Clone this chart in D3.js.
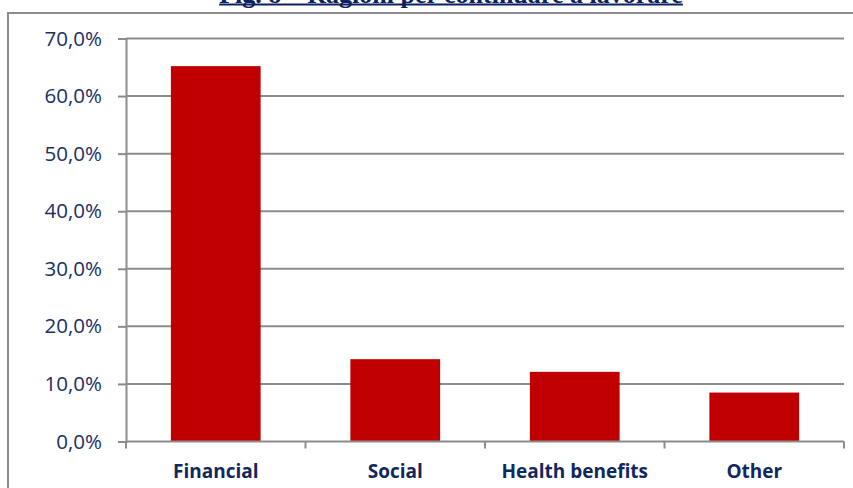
<!DOCTYPE html>
<html>
<head>
<meta charset="utf-8">
<script src="https://cdnjs.cloudflare.com/ajax/libs/d3/7.8.5/d3.min.js"></script>
<style>
  body { margin: 0; background: #fff; }
  svg { display: block; }
</style>
</head>
<body>
<div id="chart"></div>
<script>
var categories = ["Financial", "Social", "Health benefits", "Other"];
var values = [65.2, 14.3, 12.1, 8.5];
var tickValues = [0, 10, 20, 30, 40, 50, 60, 70];
var titleText = "Fig. 8 \u2013 Ragioni per continuare a lavorare";

var W = 853, H = 488;
var margin = {top: 38.5, right: 9, bottom: 46.5, left: 126};
var width = W - margin.left - margin.right;
var height = H - margin.top - margin.bottom;

var svg = d3.select("#chart").append("svg")
  .attr("width", W)
  .attr("height", H);

// outer frame (runs off the picture on right and bottom)
svg.append("rect")
  .attr("x", 8).attr("y", 13)
  .attr("width", 900).attr("height", 600)
  .attr("fill", "none")
  .attr("stroke", "#8c8c8c")
  .attr("stroke-width", 2);

// title, mostly cut off at top as in the source
var title = svg.append("text")
  .attr("x", 451).attr("y", 3)
  .attr("text-anchor", "middle")
  .style("font", "bold 26px 'Liberation Serif', serif")
  .style("fill", "#0d2060")
  .text(titleText);
var tw = title.node().getComputedTextLength();
svg.append("rect")
  .attr("x", 451 - tw / 2).attr("y", 3.5)
  .attr("width", tw).attr("height", 2)
  .attr("fill", "#0d2060");

var g = svg.append("g")
  .attr("transform", "translate(" + margin.left + "," + margin.top + ")");

var x = d3.scaleBand()
  .domain(categories)
  .range([0, width])
  .paddingInner(0.5)
  .paddingOuter(0.25);

var y = d3.scaleLinear()
  .domain([0, 70])
  .range([height, 0]);

// grid lines
g.selectAll(".grid")
  .data(tickValues.filter(function(d) { return d > 0; }))
  .enter().append("line")
  .attr("x1", 0).attr("x2", width)
  .attr("y1", function(d) { return y(d); })
  .attr("y2", function(d) { return y(d); })
  .attr("stroke", "#8c8c8c")
  .attr("stroke-width", 2);

// bars
g.selectAll(".bar")
  .data(values)
  .enter().append("rect")
  .attr("x", function(d, i) { return x(categories[i]); })
  .attr("y", function(d) { return y(d); })
  .attr("width", x.bandwidth())
  .attr("height", function(d) { return height - y(d); })
  .attr("fill", "#c00000");

// y axis
var yAxis = g.append("g")
  .call(d3.axisLeft(y).tickValues(tickValues).tickSize(8).tickPadding(16)
    .tickFormat(function(d) { return d.toFixed(1).replace(".", ",") + "%"; }));
yAxis.select(".domain").attr("stroke", "#8c8c8c").attr("stroke-width", 2);
yAxis.selectAll(".tick line").attr("stroke", "#8c8c8c").attr("stroke-width", 2);
yAxis.selectAll("text")
  .style("font", "20.5px 'Open Sans', sans-serif")
  .style("fill", "#1a2f66");

// x axis with tick marks between categories
var xAxis = g.append("g")
  .attr("transform", "translate(0," + height + ")")
  .call(d3.axisBottom(x).tickSize(0).tickPadding(23));
xAxis.select(".domain").remove();
xAxis.selectAll("text")
  .style("font", "bold 19px 'Open Sans', sans-serif")
  .style("fill", "#10285e");

var bounds = d3.range(categories.length + 1).map(function(i) {
  return i * x.step();
});
g.append("line")
  .attr("x1", 0).attr("x2", width)
  .attr("y1", height).attr("y2", height)
  .attr("stroke", "#8c8c8c")
  .attr("stroke-width", 2);
g.selectAll(".xtick")
  .data(bounds)
  .enter().append("line")
  .attr("x1", function(d) { return d; })
  .attr("x2", function(d) { return d; })
  .attr("y1", height).attr("y2", height + 7)
  .attr("stroke", "#8c8c8c")
  .attr("stroke-width", 2);
</script>
</body>
</html>
